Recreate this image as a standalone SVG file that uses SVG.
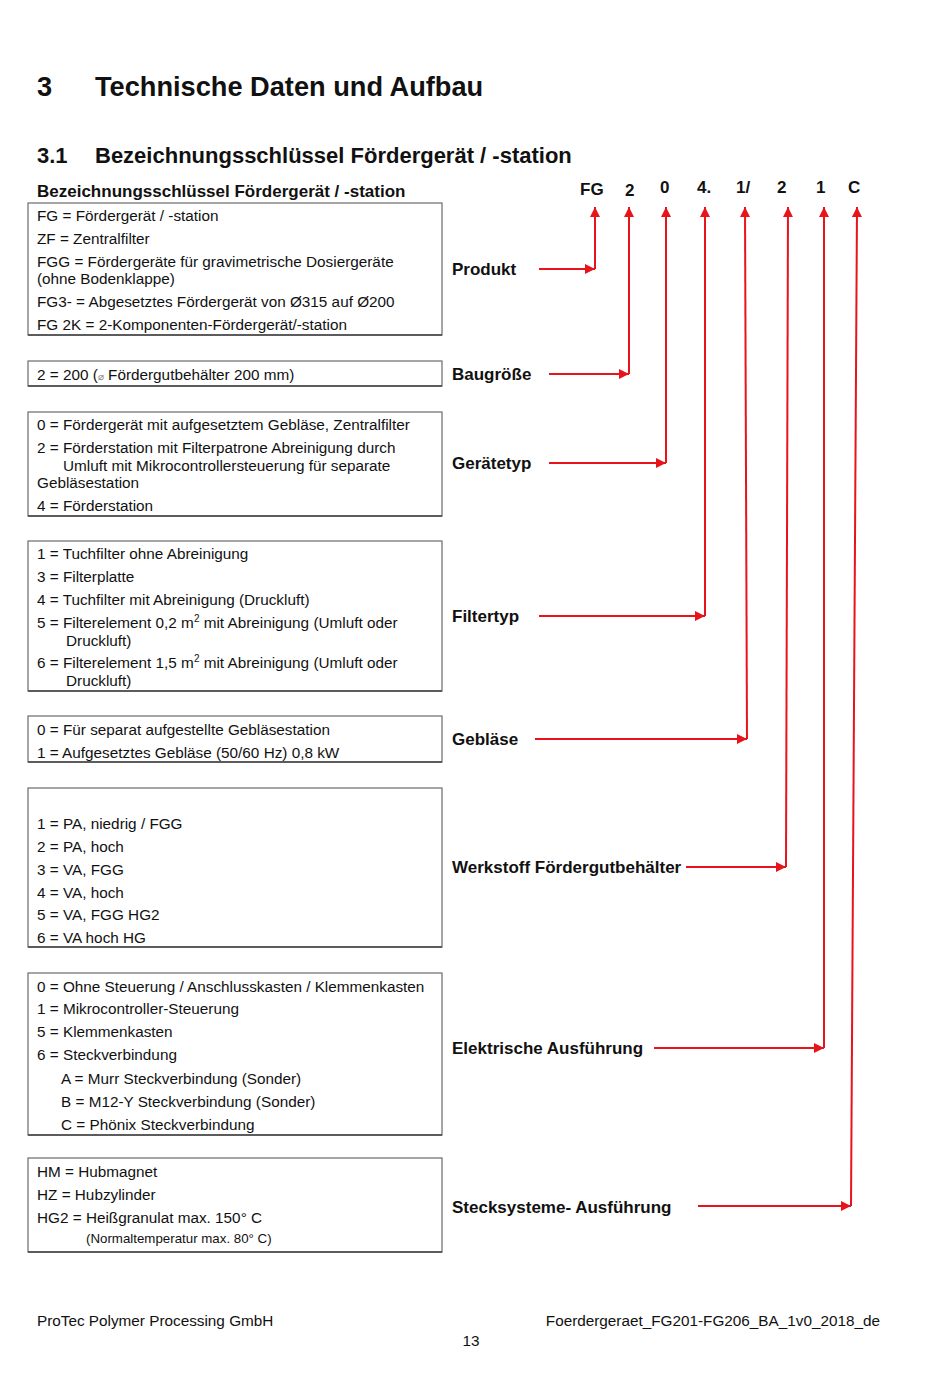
<svg xmlns="http://www.w3.org/2000/svg" width="950" height="1379" viewBox="0 0 950 1379">
<defs>
<style>
text{font-family:"Liberation Sans",Arial,Helvetica,sans-serif;fill:#111}
.h1{font-size:27.2px;font-weight:bold}
.h2{font-size:22px;font-weight:bold}
.h3{font-size:17px;font-weight:bold}
.b{font-size:15.3px}
.s{font-size:13.3px}
.lbl{font-size:17px;font-weight:bold}
.code{font-size:17px;font-weight:bold}
.box{fill:#fff;stroke:#6a6a6a;stroke-width:1.2}
.shadow{stroke:#444;stroke-width:1.5}
.arr{fill:none;stroke:#e8141b;stroke-width:2}
</style>
<marker id="ah" viewBox="0 0 10 10" refX="10" refY="5" markerWidth="5" markerHeight="5" orient="auto" markerUnits="strokeWidth">
<path d="M0,0 L10,5 L0,10 z" fill="#e8141b"/>
</marker>
</defs>
<rect width="950" height="1379" fill="#fff"/>

<g id="headings">
<text class="h1" x="37" y="96">3</text>
<text class="h1" x="95" y="96">Technische Daten und Aufbau</text>
<text class="h2" x="37" y="163">3.1</text>
<text class="h2" x="95" y="163">Bezeichnungsschlüssel Fördergerät / -station</text>
<text class="h3" x="37" y="197">Bezeichnungsschlüssel Fördergerät / -station</text>
</g>

<g id="code">
<text class="code" x="580" y="195">FG</text>
<text class="code" x="625" y="196">2</text>
<text class="code" x="660" y="193">0</text>
<text class="code" x="697" y="193">4.</text>
<text class="code" x="736" y="193">1/</text>
<text class="code" x="777" y="193">2</text>
<text class="code" x="816" y="193">1</text>
<text class="code" x="848" y="193">C</text>
</g>

<g id="box-produkt">
<rect class="box" x="28" y="203" width="414" height="132"/>
<line class="shadow" x1="28" y1="335" x2="442" y2="335"/>
<text class="b" x="37" y="221">FG = Fördergerät  / -station</text>
<text class="b" x="37" y="244">ZF =  Zentralfilter</text>
<text class="b" x="37" y="267">FGG = Fördergeräte für gravimetrische Dosiergeräte</text>
<text class="b" x="37" y="284">(ohne Bodenklappe)</text>
<text class="b" x="37" y="307">FG3- = Abgesetztes Fördergerät von Ø315 auf Ø200</text>
<text class="b" x="37" y="330">FG 2K = 2-Komponenten-Fördergerät/-station</text>
</g>

<g id="box-baugroesse">
<rect class="box" x="28" y="361" width="414" height="25"/>
<line class="shadow" x1="28" y1="386" x2="442" y2="386"/>
<text class="b" x="37" y="380">2 = 200 (<tspan font-size="10" fill="#777">⌀</tspan> Fördergutbehälter 200 mm)</text>
</g>

<g id="box-geraetetyp">
<rect class="box" x="28" y="412" width="414" height="104"/>
<line class="shadow" x1="28" y1="516" x2="442" y2="516"/>
<text class="b" x="37" y="430">0 = Fördergerät mit aufgesetztem Gebläse, Zentralfilter</text>
<text class="b" x="37" y="453">2 = Förderstation mit Filterpatrone Abreinigung durch</text>
<text class="b" x="63" y="471">Umluft mit Mikrocontrollersteuerung für separate</text>
<text class="b" x="37" y="488">Gebläsestation</text>
<text class="b" x="37" y="511">4 = Förderstation</text>
</g>

<g id="box-filtertyp">
<rect class="box" x="28" y="541" width="414" height="150"/>
<line class="shadow" x1="28" y1="691" x2="442" y2="691"/>
<text class="b" x="37" y="559">1 = Tuchfilter ohne Abreinigung</text>
<text class="b" x="37" y="582">3 = Filterplatte</text>
<text class="b" x="37" y="605">4 = Tuchfilter mit Abreinigung (Druckluft)</text>
<text class="b" x="37" y="628">5 = Filterelement 0,2 m<tspan font-size="10" dy="-6">2</tspan><tspan dy="6"> mit Abreinigung (Umluft oder</tspan></text>
<text class="b" x="66" y="646">Druckluft)</text>
<text class="b" x="37" y="668">6 = Filterelement 1,5 m<tspan font-size="10" dy="-6">2</tspan><tspan dy="6"> mit Abreinigung (Umluft oder</tspan></text>
<text class="b" x="66" y="686">Druckluft)</text>
</g>

<g id="box-geblaese">
<rect class="box" x="28" y="716" width="414" height="46"/>
<line class="shadow" x1="28" y1="762" x2="442" y2="762"/>
<text class="b" x="37" y="735">0 = Für separat aufgestellte Gebläsestation</text>
<text class="b" x="37" y="758">1 = Aufgesetztes Gebläse (50/60 Hz) 0,8 kW</text>
</g>

<g id="box-werkstoff">
<rect class="box" x="28" y="788" width="414" height="159"/>
<line class="shadow" x1="28" y1="947" x2="442" y2="947"/>
<text class="b" x="37" y="829">1 = PA, niedrig / FGG</text>
<text class="b" x="37" y="852">2 = PA, hoch</text>
<text class="b" x="37" y="875">3 = VA, FGG</text>
<text class="b" x="37" y="898">4 = VA, hoch</text>
<text class="b" x="37" y="920">5 = VA, FGG HG2</text>
<text class="b" x="37" y="943">6 = VA hoch HG</text>
</g>

<g id="box-elektrisch">
<rect class="box" x="28" y="973" width="414" height="162"/>
<line class="shadow" x1="28" y1="1135" x2="442" y2="1135"/>
<text class="b" x="37" y="992">0  = Ohne Steuerung / Anschlusskasten / Klemmenkasten</text>
<text class="b" x="37" y="1014">1 = Mikrocontroller-Steuerung</text>
<text class="b" x="37" y="1037">5 = Klemmenkasten</text>
<text class="b" x="37" y="1060">6 = Steckverbindung</text>
<text class="b" x="61" y="1084">A = Murr Steckverbindung (Sonder)</text>
<text class="b" x="61" y="1107">B = M12-Y Steckverbindung (Sonder)</text>
<text class="b" x="61" y="1130">C = Phönix Steckverbindung</text>
</g>

<g id="box-stecksysteme">
<rect class="box" x="28" y="1158" width="414" height="94"/>
<line class="shadow" x1="28" y1="1252" x2="442" y2="1252"/>
<text class="b" x="37" y="1177">HM = Hubmagnet</text>
<text class="b" x="37" y="1200">HZ = Hubzylinder</text>
<text class="b" x="37" y="1223">HG2 = Heißgranulat max. 150° C</text>
<text class="s" x="86" y="1243">(Normaltemperatur max. 80° C)</text>
</g>

<g id="labels">
<text class="lbl" x="452" y="275">Produkt</text>
<text class="lbl" x="452" y="380">Baugröße</text>
<text class="lbl" x="452" y="469">Gerätetyp</text>
<text class="lbl" x="452" y="622">Filtertyp</text>
<text class="lbl" x="452" y="745">Gebläse</text>
<text class="lbl" x="452" y="873">Werkstoff Fördergutbehälter</text>
<text class="lbl" x="452" y="1054">Elektrische Ausführung</text>
<text class="lbl" x="452" y="1213">Stecksysteme- Ausführung</text>
</g>

<g id="connectors">
<path class="arr" d="M539,269 H595" marker-end="url(#ah)"/>
<path class="arr" d="M595,269 V207" marker-end="url(#ah)"/>
<path class="arr" d="M549,374 H629" marker-end="url(#ah)"/>
<path class="arr" d="M629,374 V207" marker-end="url(#ah)"/>
<path class="arr" d="M549,463 H666" marker-end="url(#ah)"/>
<path class="arr" d="M666,463 V207" marker-end="url(#ah)"/>
<path class="arr" d="M539,616 H705" marker-end="url(#ah)"/>
<path class="arr" d="M705,616 V207" marker-end="url(#ah)"/>
<path class="arr" d="M535,739 H747" marker-end="url(#ah)"/>
<path class="arr" d="M747,739 L745,207" marker-end="url(#ah)"/>
<path class="arr" d="M686,867 H786" marker-end="url(#ah)"/>
<path class="arr" d="M786,867 L788,207" marker-end="url(#ah)"/>
<path class="arr" d="M654,1048 H824" marker-end="url(#ah)"/>
<path class="arr" d="M824,1048 V207" marker-end="url(#ah)"/>
<path class="arr" d="M698,1206 H851" marker-end="url(#ah)"/>
<path class="arr" d="M851,1206 L857,207" marker-end="url(#ah)"/>
</g>

<g id="footer">
<text class="b" x="37" y="1326">ProTec Polymer Processing GmbH</text>
<text class="b" x="880" y="1326" text-anchor="end">Foerdergeraet_FG201-FG206_BA_1v0_2018_de</text>
<text class="b" x="471" y="1346" text-anchor="middle">13</text>
</g>
</svg>
